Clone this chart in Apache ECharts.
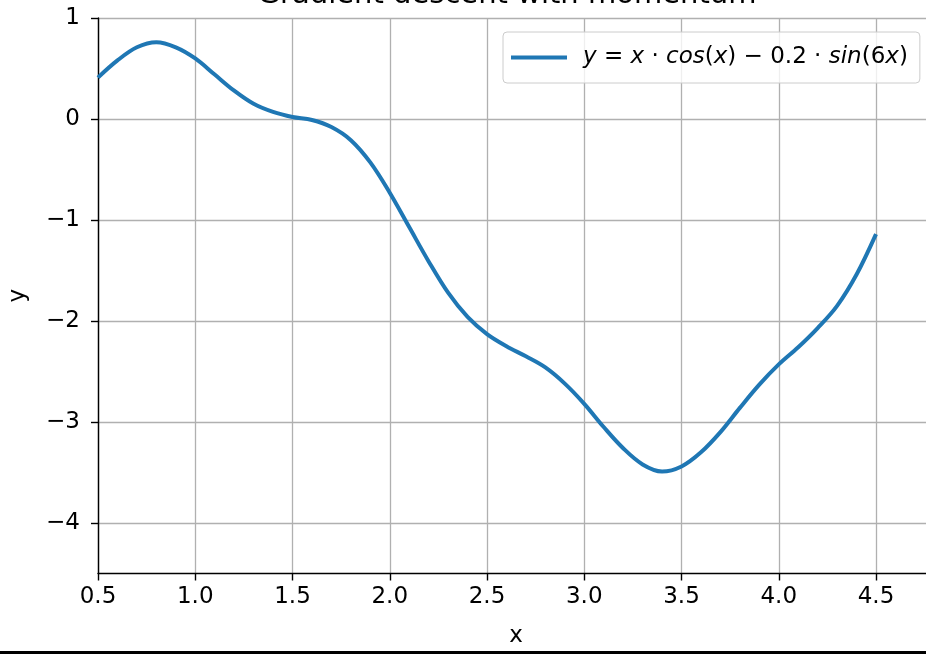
<!DOCTYPE html>
<html>
<head>
<meta charset="utf-8">
<script src="https://cdn.jsdelivr.net/npm/echarts@6/dist/echarts.min.js"></script>
<style>
html,body{margin:0;padding:0;background:#fff;}
#chart{width:926px;height:654px;}
</style>
</head>
<body>
<div id="chart"></div>
<script>
const titleText = 'Gradient descent with momentum';
const xName = 'x';
const yName = 'y';
const seriesName = 'y = x · cos(x) − 0.2 · sin(6x)';
const xValues = [0.5,0.6,0.7,0.8,0.9,1.0,1.1,1.2,1.3,1.4,1.5,1.6,1.7,1.8,1.9,2.0,2.1,2.2,2.3,2.4,2.5,2.6,2.7,2.8,2.9,3.0,3.1,3.2,3.3,3.4,3.5,3.6,3.7,3.8,3.9,4.0,4.1,4.2,4.3,4.4,4.5];
const yValues = [0.41,0.58,0.71,0.76,0.71,0.60,0.44,0.28,0.15,0.07,0.02,-0.01,-0.08,-0.21,-0.43,-0.73,-1.07,-1.41,-1.72,-1.96,-2.13,-2.25,-2.35,-2.46,-2.62,-2.82,-3.05,-3.26,-3.42,-3.49,-3.44,-3.30,-3.10,-2.86,-2.63,-2.43,-2.26,-2.07,-1.85,-1.54,-1.14];
const xTicks = [0.5,1.0,1.5,2.0,2.5,3.0,3.5,4.0,4.5];
const yTicks = [-4,-3,-2,-1,0,1];

const FONT = 'DejaVu Sans';
const chart = echarts.init(document.getElementById('chart'), null, {renderer:'canvas'});
const data = xValues.map((x,i)=>[x,yValues[i]]);
const isTick = (arr, v) => arr.some(t => Math.abs(t - v) < 1e-6);
const fmtX = v => isTick(xTicks, v) ? v.toFixed(1) : '';
const fmtY = v => !isTick(yTicks, v) ? '' : (v < 0 ? '\u2212' + Math.abs(v) : String(v));

chart.setOption({
  animation:false,
  backgroundColor:'#ffffff',
  tooltip:{show:false},
  grid:{left:98, top:18, width:875.25, height:555.5, containLabel:false, outerBoundsMode:'none'},
  graphic:[
    {type:'text', z:100, style:{text:titleText, x:507, y:-5, align:'center', verticalAlign:'middle', textAlign:'center', textVerticalAlign:'middle', font:'29px "DejaVu Sans"', fill:'#000'}},
    {type:'text', z:100, style:{text:xName, x:516, y:636, align:'center', verticalAlign:'middle', textAlign:'center', textVerticalAlign:'middle', font:'23px "DejaVu Sans"', fill:'#000'}},
    {type:'rect', z:100, shape:{x:0, y:651, width:926, height:3}, style:{fill:'#000'}}
  ],
  legend:{
    left:503, top:32,
    padding:[14,12,14,8],
    backgroundColor:'rgba(255,255,255,0.8)',
    borderColor:'#cccccc', borderWidth:1, borderRadius:4,
    itemWidth:56, itemHeight:4, icon:'rect',
    data:[seriesName],
    formatter: function(){
      return '{i|y}{n| = }{i|x}{n| · }{i|cos}{n|(}{i|x}{n|) − 0.2 · }{i|sin}{n|(6}{i|x}{n|)}';
    },
    textStyle:{
      padding:[0,0,0,11],
      rich:{
        i:{fontFamily:FONT, fontStyle:'italic', fontSize:23, color:'#000'},
        n:{fontFamily:FONT, fontSize:23, color:'#000'}
      }
    }
  },
  xAxis:{
    type:'value', min:0.5, max:5.0, interval:0.5,
    axisPointer:{show:false},
    axisLine:{show:true, onZero:false, lineStyle:{color:'#000', width:1.4}},
    axisTick:{show:true, length:7, lineStyle:{color:'#000', width:1.4}},
    axisLabel:{fontFamily:FONT, fontSize:23, color:'#000', margin:12, showMaxLabel:false, formatter:fmtX},
    splitLine:{show:true, lineStyle:{color:'#b0b0b0', width:1.3}}
  },
  yAxis:{
    type:'value', min:-4.5, max:1,
    name:yName, nameLocation:'middle', nameGap:68, nameRotate:90,
    nameTextStyle:{fontFamily:FONT, fontSize:23, color:'#000'},
    axisPointer:{show:false},
    axisLine:{show:true, onZero:false, lineStyle:{color:'#000', width:1.4}},
    axisTick:{show:true, length:7, lineStyle:{color:'#000', width:1.4}, customValues:yTicks},
    axisLabel:{fontFamily:FONT, fontSize:23, color:'#000', margin:18, customValues:yTicks, formatter:fmtY},
    splitLine:{show:true, lineStyle:{color:'#b0b0b0', width:1.3}}
  },
  series:[{
    name:seriesName, type:'line', data:data, smooth:0.35,
    showSymbol:false, symbol:'none',
    lineStyle:{color:'#1f77b4', width:4},
    itemStyle:{color:'#1f77b4'}
  }]
});
</script>
</body>
</html>
